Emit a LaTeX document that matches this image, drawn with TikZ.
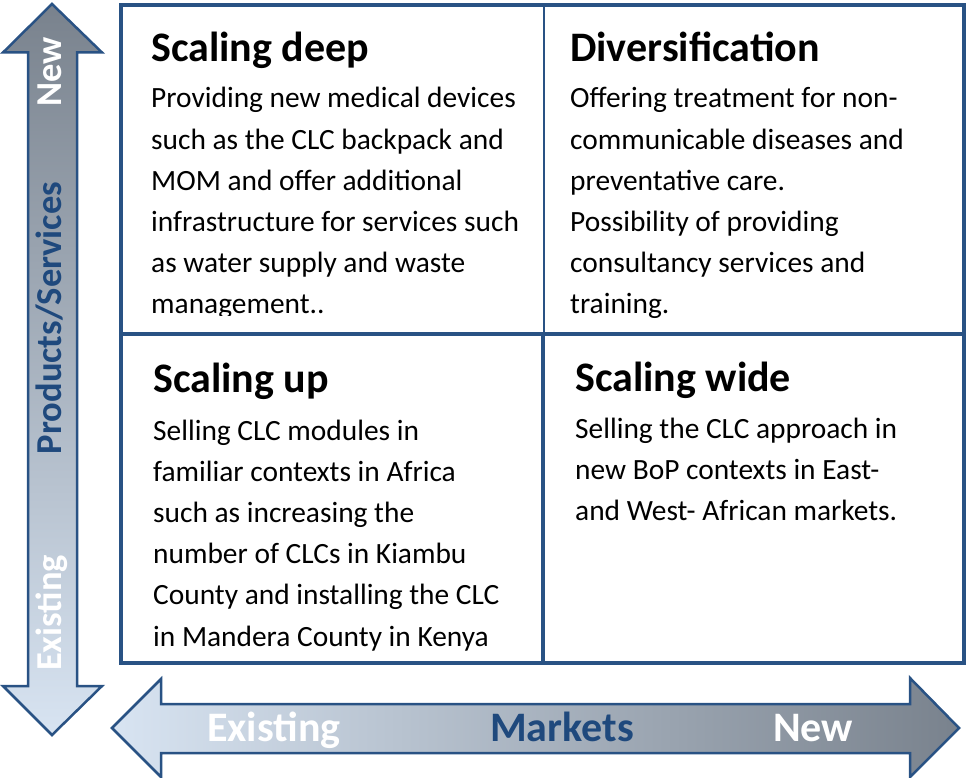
\documentclass[tikz,border=0pt]{standalone}
\usepackage{fontspec}
\setmainfont{Carlito}
\definecolor{frame}{RGB}{41,82,132}
\definecolor{lightarr}{RGB}{216,228,242}
\definecolor{darkarr}{RGB}{121,130,141}
\definecolor{mktblue}{RGB}{31,73,125}
\tikzset{
  cellborder/.style={draw=frame, line width=3.4pt},
  thinborder/.style={draw=frame, line width=1.2pt},
  arrowshape/.style={draw=frame, line width=2.5pt, line join=miter},
  celltitle/.style={anchor=base west, inner sep=0pt, font=\fontsize{42}{48}\selectfont\bfseries},
  cellbody/.style={anchor=base west, inner sep=0pt, font=\fontsize{29.4}{41.2}\selectfont},
  hlabel/.style={anchor=base west, inner sep=0pt, font=\fontsize{42}{48}\selectfont\bfseries},
  vlabel/.style={anchor=base, inner sep=0pt, rotate=90, font=\fontsize{36.5}{42}\selectfont\bfseries},
}
\begin{document}
\begin{tikzpicture}[x=1pt, y=-1pt]
\useasboundingbox (0,0) rectangle (966,778);

% vertical arrow
\path[arrowshape, top color=darkarr, bottom color=lightarr]
  (52,4) -- (102,52.5) -- (77,52.5) -- (77,686) -- (102,686) -- (52,735)
  -- (3,686) -- (28,686) -- (28,52.5) -- (3,52.5) -- cycle;
% horizontal arrow
\path[arrowshape, left color=lightarr, right color=darkarr]
  (112,728) -- (161,679) -- (161,704) -- (910,704) -- (910,678) -- (959,728)
  -- (910,777) -- (910,753) -- (161,753) -- (161,777) -- cycle;

% axis labels
\node[vlabel, text=white] (vnew) at (61,72) {New};
\node[vlabel, text=mktblue] (vprod) at (61,318) {Products/Services};
\node[vlabel, text=white] (vexist) at (61,613) {Existing};
\node[hlabel, text=white] (hexist) at (207,741) {Existing};
\node[hlabel, text=mktblue] (hmkt) at (490,741) {Markets};
\node[hlabel, text=white] (hnew) at (773,741) {New};

% grid
\draw[thinborder] (544,5) -- (544,334);
\draw[cellborder] (543,334) -- (543,663);
\draw[cellborder] (121,334) -- (964,334);
\draw[cellborder] (121,5) rectangle (964,663);

% top-left cell
\node[celltitle] (tlt) at (151,62) {Scaling deep};
\begin{scope}
\clip (121,5) rectangle (543,315.5);
\node[cellbody] (tlb) at (151,108) {\parbox[t]{385pt}{\raggedright
Providing new medical devices\\
such as the CLC backpack and\\
MOM and offer additional\\
infrastructure for services such\\
as water supply and waste\\
management..}};
\end{scope}

% top-right cell
\node[celltitle] (trt) at (570,62) {Diversification};
\node[cellbody] (trb) at (570,108) {\parbox[t]{385pt}{\raggedright
Offering treatment for non-\\
communicable diseases and\\
preventative care.\\
Possibility of providing\\
consultancy services and\\
training.}};

% bottom-left cell
\node[celltitle] (blt) at (153,392) {Scaling up};
\node[cellbody] (blb) at (153,440) {\parbox[t]{385pt}{\raggedright
Selling CLC modules in\\
familiar contexts in Africa\\
such as increasing the\\
number of CLCs in Kiambu\\
County and installing the CLC\\
in Mandera County in Kenya}};

% bottom-right cell
\node[celltitle] (brt) at (575,391) {Scaling wide};
\node[cellbody] (brb) at (575,438) {\parbox[t]{385pt}{\raggedright
Selling the CLC approach in\\
new BoP contexts in East-\\
and West- African markets.}};
\end{tikzpicture}
\end{document}
